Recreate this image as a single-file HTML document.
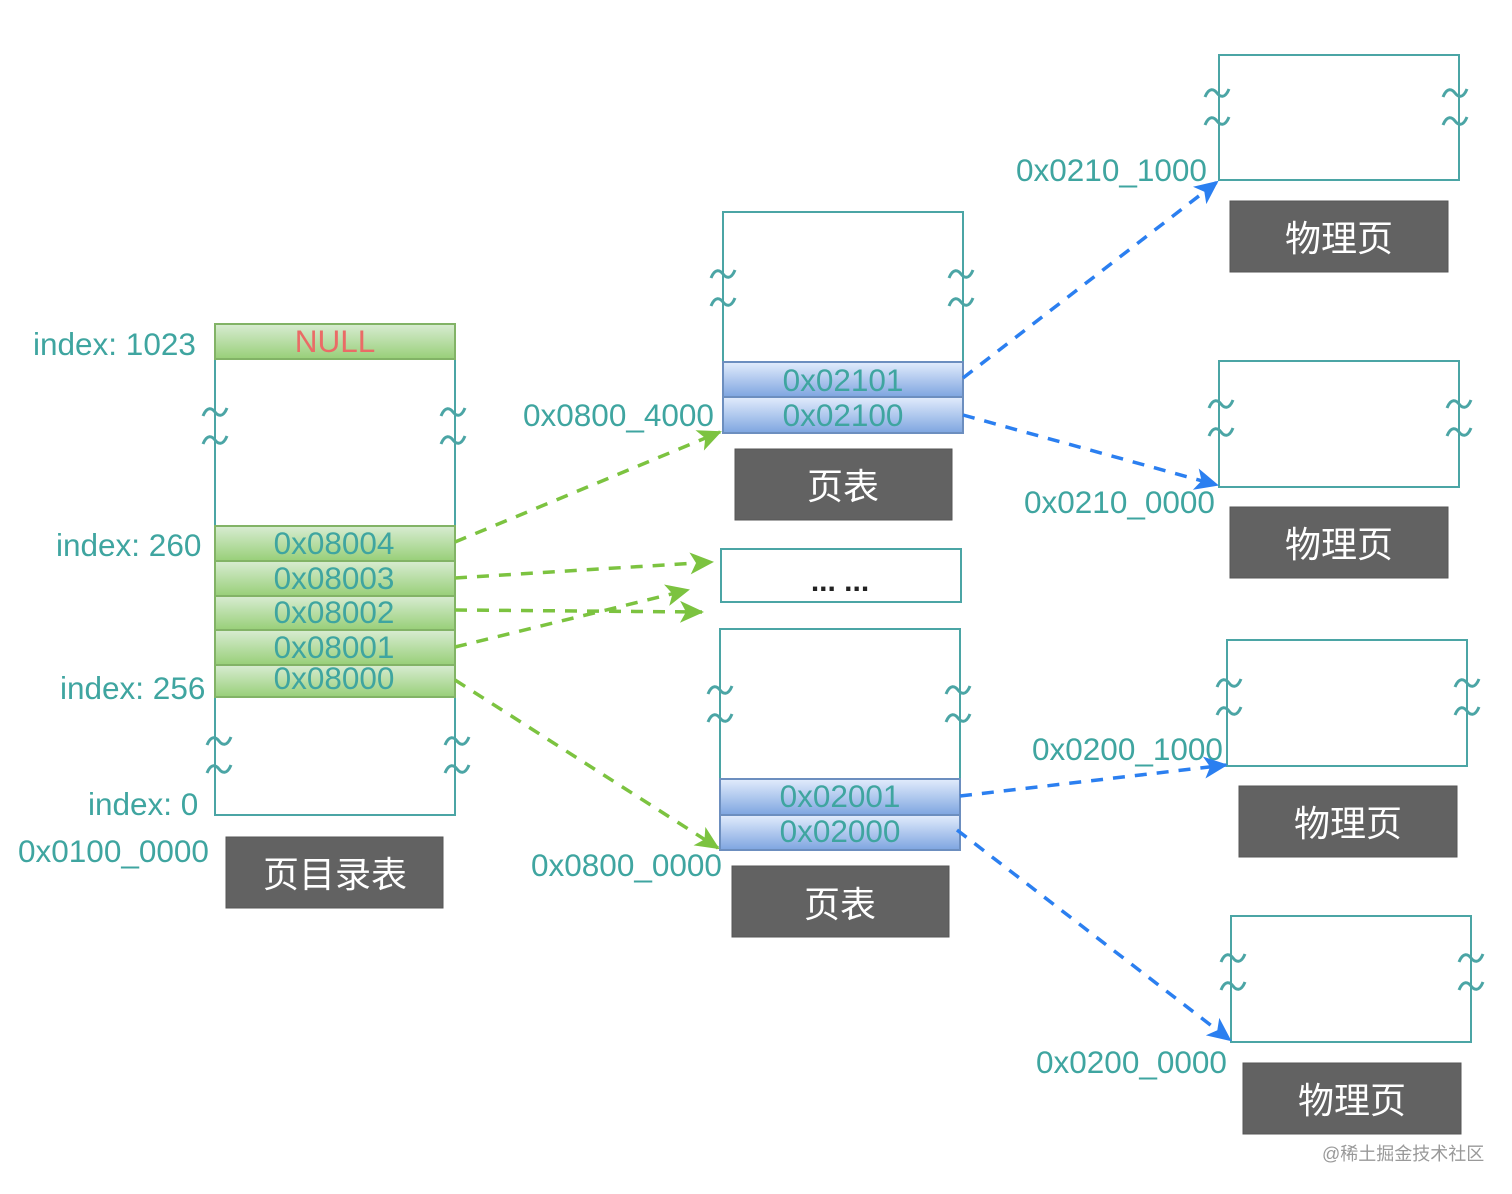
<!DOCTYPE html>
<html><head><meta charset="utf-8"><style>
html,body{margin:0;padding:0;background:#fff}
svg{display:block}
text{font-family:"Liberation Sans","Noto Sans CJK SC",sans-serif}
.t{fill:#3fa5a0;font-size:31.5px}
.c{fill:#3fa5a0;font-size:31.5px;text-anchor:middle}
.box{fill:#fff;stroke:#4ba5a5;stroke-width:2}
.dk{fill:#626262;stroke:#555;stroke-width:1}
.dt{fill:#fff;font-size:36px;text-anchor:middle}
.g{stroke:#7cc340;stroke-width:3.5;stroke-dasharray:12 10;fill:none}
.b{stroke:#2b7ff0;stroke-width:3.5;stroke-dasharray:12 10;fill:none}
.sq{fill:none;stroke:#4ba5a5;stroke-width:3}
</style></head><body>
<svg width="1512" height="1194" viewBox="0 0 1512 1194" xmlns="http://www.w3.org/2000/svg">
<defs>
<linearGradient id="gg" x1="0" y1="0" x2="0" y2="1"><stop offset="0" stop-color="#d8ecd2"/><stop offset="1" stop-color="#98cf78"/></linearGradient>
<linearGradient id="bg" x1="0" y1="0" x2="0" y2="1"><stop offset="0" stop-color="#e2ecfc"/><stop offset="1" stop-color="#7ea5e0"/></linearGradient>
<marker id="ag" markerUnits="userSpaceOnUse" markerWidth="26" markerHeight="22" refX="22" refY="11" orient="auto"><path d="M0,0 L24,11 L0,22 L6,11 z" fill="#7cc340"/></marker>
<marker id="ab" markerUnits="userSpaceOnUse" markerWidth="26" markerHeight="22" refX="22" refY="11" orient="auto"><path d="M0,0 L24,11 L0,22 L6,11 z" fill="#2b7ff0"/></marker>
<g id="s"><path class="sq" d="M-12,4 C-8,-6 -3,-4 0,0 S8,6 12,-4"/><path class="sq" d="M-12,32 C-8,22 -3,24 0,28 S8,34 12,24"/></g>
</defs>

<rect class="box" x="215" y="324" width="240" height="491"/>
<rect x="215" y="324" width="240" height="35" fill="url(#gg)" stroke="#82b366" stroke-width="2"/>
<text x="335" y="352" font-size="31.5" fill="#ea6b66" text-anchor="middle">NULL</text>
<rect x="215" y="526" width="240" height="35" fill="url(#gg)" stroke="#82b366" stroke-width="2"/>
<rect x="215" y="561" width="240" height="35" fill="url(#gg)" stroke="#82b366" stroke-width="2"/>
<rect x="215" y="596" width="240" height="34" fill="url(#gg)" stroke="#82b366" stroke-width="2"/>
<rect x="215" y="630" width="240" height="35" fill="url(#gg)" stroke="#82b366" stroke-width="2"/>
<rect x="215" y="665" width="240" height="32" fill="url(#gg)" stroke="#82b366" stroke-width="2"/>
<text class="c" x="334" y="554">0x08004</text>
<text class="c" x="334" y="589">0x08003</text>
<text class="c" x="334" y="623">0x08002</text>
<text class="c" x="334" y="658">0x08001</text>
<text class="c" x="334" y="689">0x08000</text>
<use href="#s" x="215" y="412"/><use href="#s" x="453" y="412"/>
<use href="#s" x="219" y="741"/><use href="#s" x="457" y="741"/>
<text class="t" x="33" y="355">index: 1023</text>
<text class="t" x="56" y="556">index: 260</text>
<text class="t" x="60" y="699">index: 256</text>
<text class="t" x="88" y="815">index: 0</text>
<text class="t" x="18" y="862">0x0100_0000</text>
<rect class="dk" x="226" y="837" width="217" height="71"/>
<text class="dt" x="335" y="887">页目录表</text>

<rect class="box" x="723" y="212" width="240" height="221"/>
<rect x="723" y="362" width="240" height="35" fill="url(#bg)" stroke="#6c8ebf" stroke-width="2"/>
<rect x="723" y="397" width="240" height="36" fill="url(#bg)" stroke="#6c8ebf" stroke-width="2"/>
<text class="c" x="843" y="391">0x02101</text>
<text class="c" x="843" y="426">0x02100</text>
<use href="#s" x="723" y="274"/><use href="#s" x="961" y="274"/>
<text class="t" x="523" y="426">0x0800_4000</text>
<rect class="dk" x="735" y="449" width="217" height="71"/>
<text class="dt" x="843" y="499">页表</text>

<rect class="box" x="721" y="549" width="240" height="53"/>
<text x="840" y="591" font-size="30" font-weight="bold" fill="#222" text-anchor="middle">... ...</text>

<rect class="box" x="720" y="629" width="240" height="221"/>
<rect x="720" y="779" width="240" height="36" fill="url(#bg)" stroke="#6c8ebf" stroke-width="2"/>
<rect x="720" y="815" width="240" height="35" fill="url(#bg)" stroke="#6c8ebf" stroke-width="2"/>
<text class="c" x="840" y="807">0x02001</text>
<text class="c" x="840" y="842">0x02000</text>
<use href="#s" x="720" y="690"/><use href="#s" x="958" y="690"/>
<text class="t" x="531" y="876">0x0800_0000</text>
<rect class="dk" x="732" y="866" width="217" height="71"/>
<text class="dt" x="840" y="917">页表</text>

<rect class="box" x="1219" y="55" width="240" height="125"/>
<use href="#s" x="1217" y="93"/><use href="#s" x="1455" y="93"/>
<text class="t" x="1016" y="181">0x0210_1000</text>
<rect class="dk" x="1230" y="201" width="218" height="71"/>
<text class="dt" x="1339" y="251">物理页</text>

<rect class="box" x="1219" y="361" width="240" height="126"/>
<use href="#s" x="1221" y="404"/><use href="#s" x="1459" y="404"/>
<text class="t" x="1024" y="513">0x0210_0000</text>
<rect class="dk" x="1230" y="507" width="218" height="71"/>
<text class="dt" x="1339" y="557">物理页</text>

<rect class="box" x="1227" y="640" width="240" height="126"/>
<use href="#s" x="1229" y="683"/><use href="#s" x="1467" y="683"/>
<text class="t" x="1032" y="760">0x0200_1000</text>
<rect class="dk" x="1239" y="786" width="218" height="71"/>
<text class="dt" x="1348" y="836">物理页</text>

<rect class="box" x="1231" y="916" width="240" height="126"/>
<use href="#s" x="1233" y="958"/><use href="#s" x="1471" y="958"/>
<text class="t" x="1036" y="1073">0x0200_0000</text>
<rect class="dk" x="1243" y="1063" width="218" height="71"/>
<text class="dt" x="1352" y="1113">物理页</text>

<path class="g" d="M455,542 L720,432" marker-end="url(#ag)"/>
<path class="g" d="M455,578 L712,562" marker-end="url(#ag)"/>
<path class="g" d="M455,610 L702,612" marker-end="url(#ag)"/>
<path class="g" d="M455,647 L688,590" marker-end="url(#ag)"/>
<path class="g" d="M455,680 L718,848" marker-end="url(#ag)"/>
<path class="b" d="M963,378 L1217,182" marker-end="url(#ab)"/>
<path class="b" d="M963,415 L1217,485" marker-end="url(#ab)"/>
<path class="b" d="M960,796 L1226,765" marker-end="url(#ab)"/>
<path class="b" d="M957,830 L1230,1040" marker-end="url(#ab)"/>

<text x="1322" y="1160" font-size="18" fill="#999">@稀土掘金技术社区</text>
</svg>
</body></html>
